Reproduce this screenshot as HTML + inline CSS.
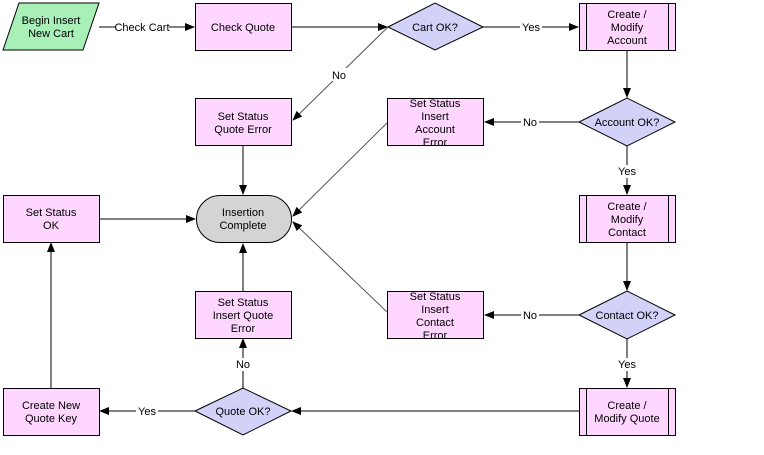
<!DOCTYPE html>
<html><head><meta charset="utf-8"><style>
html,body{margin:0;padding:0;background:#fff;}
svg{display:block;}
text{font-family:"Liberation Sans",sans-serif;font-size:11px;fill:#000;text-anchor:middle;}
</style></head><body>
<svg width="764" height="455" viewBox="0 0 764 455" xmlns="http://www.w3.org/2000/svg">
<defs>
<marker id="a" markerWidth="10" markerHeight="8" refX="9" refY="4" orient="auto" markerUnits="userSpaceOnUse">
<path d="M0,0 L10,4 L0,8 z" fill="#000"/></marker>
</defs>
<g stroke="#000" stroke-width="1" fill="none">
<!-- connectors -->
<line x1="99" y1="27" x2="194" y2="27" marker-end="url(#a)"/>
<line x1="291" y1="27" x2="387" y2="27" marker-end="url(#a)"/>
<line x1="483" y1="27" x2="578" y2="27" marker-end="url(#a)"/>
<line x1="627" y1="51" x2="627" y2="97" marker-end="url(#a)"/>
<line x1="579" y1="122" x2="485" y2="122" marker-end="url(#a)"/>
<line x1="627" y1="146" x2="627" y2="194" marker-end="url(#a)"/>
<line x1="627" y1="243" x2="627" y2="290" marker-end="url(#a)"/>
<line x1="579" y1="315" x2="485" y2="315" marker-end="url(#a)"/>
<line x1="627" y1="338" x2="627" y2="387" marker-end="url(#a)"/>
<line x1="579" y1="411" x2="292" y2="411" marker-end="url(#a)"/>
<line x1="195" y1="411" x2="100" y2="411" marker-end="url(#a)"/>
<line x1="243" y1="388" x2="243" y2="339" marker-end="url(#a)"/>
<line x1="243" y1="291" x2="243" y2="244" marker-end="url(#a)"/>
<line x1="243" y1="146" x2="243" y2="194" marker-end="url(#a)"/>
<line x1="99" y1="219" x2="195" y2="219" marker-end="url(#a)"/>
<line x1="51" y1="388" x2="51" y2="243" marker-end="url(#a)"/>
<line x1="388" y1="27" x2="293" y2="120" stroke="#555" marker-end="url(#a)"/>
<line x1="387" y1="123" x2="293" y2="216" stroke="#555" marker-end="url(#a)"/>
<line x1="387" y1="312" x2="293" y2="222" stroke="#555" marker-end="url(#a)"/>
</g>
<!-- labels on connectors -->
<g>
<rect x="116" y="20" width="53" height="13" fill="#fff"/><text x="142" y="31">Check Cart</text>
<rect x="520" y="20" width="22" height="13" fill="#fff"/><text x="531" y="31">Yes</text>
<rect x="330" y="68" width="18" height="13" fill="#fff"/><text x="339" y="79">No</text>
<rect x="521" y="116" width="18" height="13" fill="#fff"/><text x="530" y="126">No</text>
<rect x="616" y="165" width="22" height="13" fill="#fff"/><text x="627" y="175">Yes</text>
<rect x="521" y="309" width="18" height="13" fill="#fff"/><text x="530" y="319">No</text>
<rect x="616" y="358" width="22" height="13" fill="#fff"/><text x="627" y="368">Yes</text>
<rect x="234" y="358" width="18" height="13" fill="#fff"/><text x="243" y="368">No</text>
<rect x="136" y="405" width="22" height="13" fill="#fff"/><text x="147" y="415">Yes</text>
</g>
<!-- nodes -->
<g stroke="#000" stroke-width="1">
<polygon points="19,3 99,3 83,50 3,50" fill="#a8f0b8"/>
<rect x="195.5" y="3.5" width="96" height="47" fill="#ffd6ff"/>
<polygon points="388,27 435,3 483,27 435,50" fill="#d2d2f8"/>
<rect x="579.5" y="3.5" width="96" height="47" fill="#ffd6ff"/>
<line x1="586.5" y1="3.5" x2="586.5" y2="50.5"/><line x1="668.5" y1="3.5" x2="668.5" y2="50.5"/>
<rect x="195.5" y="98.5" width="96" height="47" fill="#ffd6ff"/>
<rect x="387.5" y="98.5" width="96" height="47" fill="#ffd6ff"/>
<polygon points="579,122 627,98 675,122 627,146" fill="#d2d2f8"/>
<rect x="196.5" y="195.5" width="95" height="47" rx="23.5" fill="#d4d4d4"/>
<rect x="3.5" y="195.5" width="96" height="47" fill="#ffd6ff"/>
<rect x="579.5" y="195.5" width="96" height="47" fill="#ffd6ff"/>
<line x1="586.5" y1="195.5" x2="586.5" y2="242.5"/><line x1="668.5" y1="195.5" x2="668.5" y2="242.5"/>
<rect x="195.5" y="291.5" width="96" height="47" fill="#ffd6ff"/>
<rect x="387.5" y="291.5" width="96" height="47" fill="#ffd6ff"/>
<polygon points="579,315 627,291 675,315 627,339" fill="#d2d2f8"/>
<rect x="3.5" y="388.5" width="96" height="47" fill="#ffd6ff"/>
<polygon points="195,411 243,388 291,411 243,435" fill="#d2d2f8"/>
<rect x="579.5" y="388.5" width="96" height="47" fill="#ffd6ff"/>
<line x1="586.5" y1="388.5" x2="586.5" y2="435.5"/><line x1="668.5" y1="388.5" x2="668.5" y2="435.5"/>
</g>
<!-- node text -->
<text x="51" y="24">Begin Insert</text><text x="51" y="37">New Cart</text>
<text x="243" y="31">Check Quote</text>
<text x="435" y="31">Cart OK?</text>
<text x="627" y="18">Create /</text><text x="627" y="31">Modify</text><text x="627" y="44">Account</text>
<text x="243" y="120">Set Status</text><text x="243" y="133">Quote Error</text>
<text x="435" y="107">Set Status</text><text x="435" y="120">Insert</text><text x="435" y="133">Account</text><text x="435" y="146">Error</text>
<text x="627" y="126">Account OK?</text>
<text x="243" y="216">Insertion</text><text x="243" y="229">Complete</text>
<text x="51" y="216">Set Status</text><text x="51" y="229">OK</text>
<text x="627" y="210">Create /</text><text x="627" y="223">Modify</text><text x="627" y="236">Contact</text>
<text x="243" y="306">Set Status</text><text x="243" y="319">Insert Quote</text><text x="243" y="332">Error</text>
<text x="435" y="300">Set Status</text><text x="435" y="313">Insert</text><text x="435" y="326">Contact</text><text x="435" y="339">Error</text>
<text x="627" y="319">Contact OK?</text>
<text x="51" y="409">Create New</text><text x="51" y="422">Quote Key</text>
<text x="243" y="415">Quote OK?</text>
<text x="627" y="409">Create /</text><text x="627" y="422">Modify Quote</text>
</svg>
</body></html>
